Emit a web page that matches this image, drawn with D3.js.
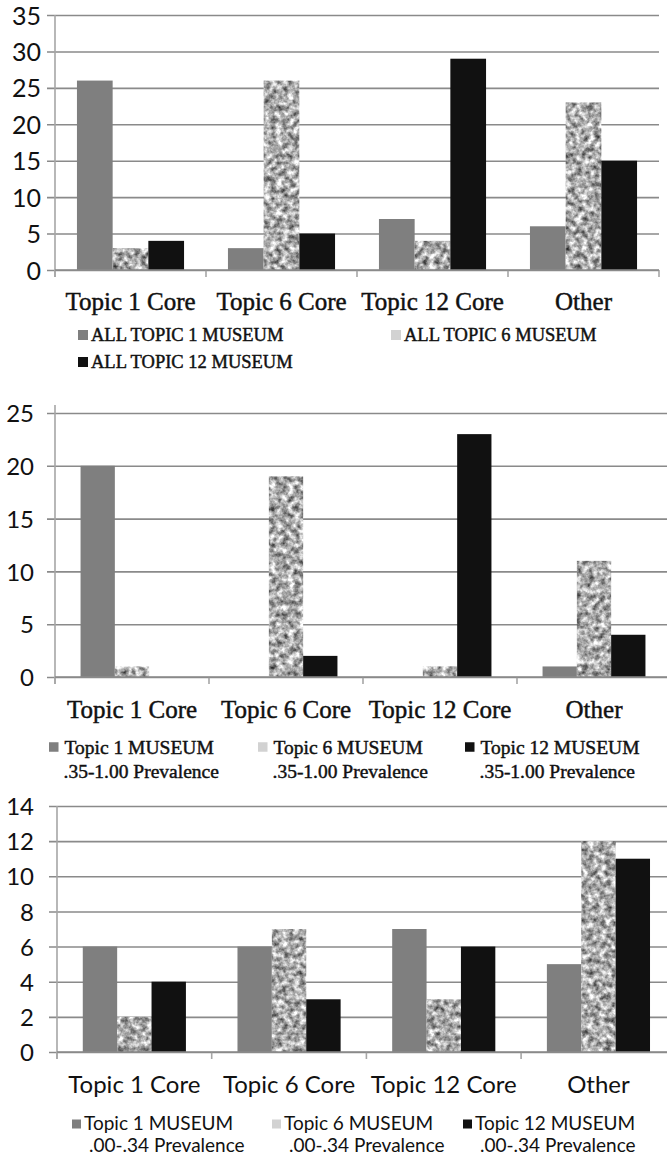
<!DOCTYPE html>
<html>
<head>
<meta charset="utf-8">
<script src="https://cdn.jsdelivr.net/npm/d3@7"></script>
<style>
  html, body { margin: 0; padding: 0; background: #fff; }
  svg { display: block; }
</style>
</head>
<body>
<script>
// ---- data ----
const categories = ["Topic 1 Core", "Topic 6 Core", "Topic 12 Core", "Other"];

// all museum documents
const allTopic1 = [26, 3, 7, 6];
const allTopic6 = [3, 26, 4, 23];
const allTopic12 = [4, 5, 29, 15];
const allTicks = [0, 5, 10, 15, 20, 25, 30, 35];
const allLegend = [["ALL TOPIC 1 MUSEUM"], ["ALL TOPIC 6 MUSEUM"], ["ALL TOPIC 12 MUSEUM"]];

// .35-1.00 prevalence
const highTopic1 = [20, 0, 0, 1];
const highTopic6 = [1, 19, 1, 11];
const highTopic12 = [0, 2, 23, 4];
const highTicks = [0, 5, 10, 15, 20, 25];
const highLegend = [
  ["Topic 1 MUSEUM", ".35-1.00 Prevalence"],
  ["Topic 6 MUSEUM", ".35-1.00 Prevalence"],
  ["Topic 12 MUSEUM", ".35-1.00 Prevalence"]
];

// .00-.34 prevalence
const lowTopic1 = [6, 6, 7, 5];
const lowTopic6 = [2, 7, 3, 12];
const lowTopic12 = [4, 3, 6, 11];
const lowTicks = [0, 2, 4, 6, 8, 10, 12, 14];
const lowLegend = [
  ["Topic 1 MUSEUM", ".00-.34 Prevalence"],
  ["Topic 6 MUSEUM", ".00-.34 Prevalence"],
  ["Topic 12 MUSEUM", ".00-.34 Prevalence"]
];

// ---- styling ----
const SERIF = "'Liberation Serif', 'Times New Roman', serif";
const SANS = "Lato, 'Liberation Sans', sans-serif";
const GRID = "#8a8a8a";
const AXIS = "#a6a6a6";

const W = 667, H = 1159;
const svg = d3.select("body").append("svg")
  .attr("width", W).attr("height", H)
  .attr("viewBox", `0 0 ${W} ${H}`);
svg.append("rect").attr("width", W).attr("height", H).attr("fill", "#fff");

// granite-like texture for the Topic 6 series
const defs = svg.append("defs");
const granite = defs.append("filter").attr("id", "granite")
  .attr("x", 0).attr("y", 0).attr("width", 1).attr("height", 1)
  .attr("color-interpolation-filters", "sRGB");
granite.append("feTurbulence")
  .attr("type", "fractalNoise").attr("baseFrequency", 0.17)
  .attr("numOctaves", 3).attr("seed", 7).attr("result", "noise");
granite.append("feColorMatrix").attr("in", "noise").attr("type", "matrix")
  .attr("values", "1.25 0 0 0 0.05  1.25 0 0 0 0.05  1.25 0 0 0 0.05  0 0 0 0 1")
  .attr("result", "gray");
granite.append("feGaussianBlur").attr("in", "gray").attr("stdDeviation", 0.6).attr("result", "soft");
granite.append("feComposite").attr("in", "soft").attr("in2", "SourceGraphic")
  .attr("operator", "in");

const fills = ["#7f7f7f", "#bdbdbd", "#111111"];
const legendFills = ["#7f7f7f", "#d2d2d2", "#111111"];

function drawChart(cfg) {
  const g = svg.append("g");
  const x0 = d3.scaleBand().domain(categories)
    .range([cfg.left, cfg.left + cfg.band * categories.length]);
  const x1 = d3.scaleBand().domain([0, 1, 2])
    .range([0, x0.bandwidth()]).paddingInner(0).paddingOuter(cfg.barPad);
  const y = d3.scaleLinear().domain([0, cfg.ticks[cfg.ticks.length - 1]])
    .range([cfg.zero, cfg.top]);
  const right = x0.range()[1];

  // gridlines + y labels
  const yAxis = g.append("g").attr("transform", `translate(${cfg.left},0)`)
    .call(d3.axisLeft(y).tickValues(cfg.ticks).tickSize(0).tickPadding(cfg.labelPad));
  yAxis.select(".domain").remove();
  yAxis.selectAll(".tick line")
    .attr("x1", -8).attr("x2", right - cfg.left)
    .attr("stroke", GRID).attr("stroke-width", 1.6);
  yAxis.selectAll(".tick text")
    .attr("font-family", SANS).attr("font-size", cfg.tickSize)
    .attr("fill", "#111").attr("dy", "0.36em");

  // vertical axis
  g.append("line")
    .attr("x1", cfg.left).attr("x2", cfg.left)
    .attr("y1", cfg.axisTop).attr("y2", cfg.zero + 7)
    .attr("stroke", AXIS).attr("stroke-width", 1.6);

  // category boundary ticks
  const bounds = categories.map(c => x0(c)).concat([right]);
  g.selectAll(".xtick").data(bounds).join("line")
    .attr("x1", d => d).attr("x2", d => d)
    .attr("y1", cfg.zero).attr("y2", cfg.zero + 7)
    .attr("stroke", AXIS).attr("stroke-width", 1.6);

  // bars
  cfg.series.forEach((vals, si) => {
    g.append("g").selectAll("rect").data(vals).join("rect")
      .attr("x", (d, i) => x0(categories[i]) + x1(si))
      .attr("y", d => y(d))
      .attr("width", x1.bandwidth())
      .attr("height", d => cfg.zero - y(d))
      .attr("fill", fills[si])
      .attr("filter", si === 1 ? "url(#granite)" : null);
  });

  // baseline
  g.append("line")
    .attr("x1", cfg.left).attr("x2", right)
    .attr("y1", cfg.zero).attr("y2", cfg.zero)
    .attr("stroke", GRID).attr("stroke-width", 1.6);

  // category labels
  g.selectAll(".cat").data(categories).join("text")
    .attr("x", d => x0(d) + x0.bandwidth() / 2)
    .attr("y", cfg.catY)
    .attr("text-anchor", "middle")
    .attr("font-family", cfg.catFont).attr("font-size", cfg.catSize)
    .attr("fill", "#111").attr("stroke", "#111").attr("stroke-width", cfg.textStroke)
    .text(d => d);

  // legend
  cfg.legend.forEach((lines, i) => {
    const p = cfg.legendPos[i];
    g.append("rect")
      .attr("x", p.x).attr("y", p.y - cfg.markerSize / 2 - cfg.markerLift)
      .attr("width", cfg.markerSize).attr("height", cfg.markerSize)
      .attr("fill", legendFills[i]);
    lines.forEach((t, li) => {
      g.append("text")
        .attr("x", p.x + cfg.markerSize + cfg.textGap + (li ? cfg.line2Shift : 0))
        .attr("y", p.y + li * cfg.lineGap)
        .attr("font-family", cfg.legendFont).attr("font-size", cfg.legendSize)
        .attr("fill", "#111").attr("stroke", "#111").attr("stroke-width", cfg.textStroke)
        .text(t);
    });
  });
}

drawChart({
  series: [allTopic1, allTopic6, allTopic12], ticks: allTicks, legend: allLegend,
  left: 55, band: 151, barPad: 0.615, top: 15, zero: 270, axisTop: 15,
  labelPad: 14, tickSize: 25,
  catFont: SERIF, catSize: 25, catY: 310, textStroke: 0.45,
  legendFont: SERIF, legendSize: 18.5,
  legendPos: [{x: 78, y: 341}, {x: 391, y: 341}, {x: 78, y: 368}],
  markerSize: 10, markerLift: 6, textGap: 3, lineGap: 0, line2Shift: 0
});

drawChart({
  series: [highTopic1, highTopic6, highTopic12], ticks: highTicks, legend: highLegend,
  left: 55, band: 154, barPad: 0.745, top: 413, zero: 677, axisTop: 405,
  labelPad: 21, tickSize: 24,
  catFont: SERIF, catSize: 25, catY: 718, textStroke: 0.45,
  legendFont: SERIF, legendSize: 19.5,
  legendPos: [{x: 49, y: 754}, {x: 258, y: 754}, {x: 465, y: 754}],
  markerSize: 9.5, markerLift: 7, textGap: 6, lineGap: 24, line2Shift: -1
});

drawChart({
  series: [lowTopic1, lowTopic6, lowTopic12], ticks: lowTicks, legend: lowLegend,
  left: 57, band: 154.7, barPad: 0.75, top: 806, zero: 1052, axisTop: 806,
  labelPad: 23, tickSize: 24,
  catFont: SANS, catSize: 24, catY: 1093, textStroke: 0,
  legendFont: SANS, legendSize: 19,
  legendPos: [{x: 72, y: 1130}, {x: 272, y: 1130}, {x: 463, y: 1130}],
  markerSize: 9, markerLift: 6, textGap: 3, lineGap: 22, line2Shift: 5
});
</script>
</body>
</html>
